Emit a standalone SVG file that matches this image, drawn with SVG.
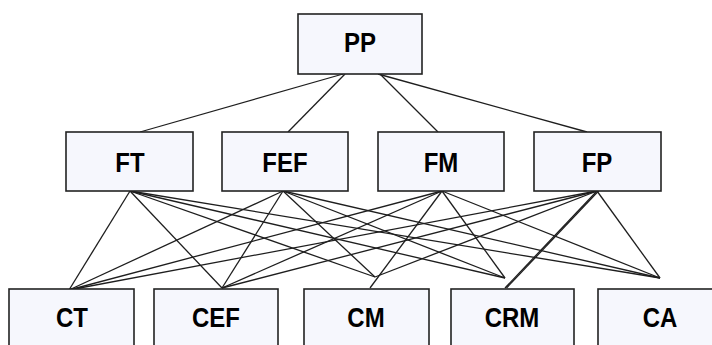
<svg xmlns="http://www.w3.org/2000/svg" width="712" height="345" viewBox="0 0 712 345">
<style>
.box{fill:#F6F7FD;stroke:#222;stroke-width:1.6}
.lbl{font-family:"Liberation Sans",Arial,sans-serif;font-weight:bold;font-size:24px;fill:#000;text-anchor:middle}
.ln{stroke:#1e1e1e;stroke-width:1.3;fill:none}
</style>
<rect width="712" height="345" fill="#fff"/>
<g id="connectors">
<line class="ln" x1="343" y1="74" x2="140" y2="132"/>
<line class="ln" x1="345" y1="74" x2="288" y2="132"/>
<line class="ln" x1="380" y1="74" x2="438" y2="132"/>
<line class="ln" x1="378" y1="74" x2="587" y2="132"/>
<line class="ln" x1="130" y1="191" x2="69" y2="290"/>
<line class="ln" x1="130" y1="191" x2="222" y2="288"/>
<line class="ln" x1="130" y1="191" x2="375" y2="277"/>
<line class="ln" x1="130" y1="191" x2="505" y2="278"/>
<line class="ln" x1="130" y1="191" x2="660" y2="278"/>
<line class="ln" x1="283" y1="191" x2="69" y2="290"/>
<line class="ln" x1="283" y1="191" x2="222" y2="288"/>
<line class="ln" x1="283" y1="191" x2="375" y2="277"/>
<line class="ln" x1="283" y1="191" x2="505" y2="278"/>
<line class="ln" x1="283" y1="191" x2="660" y2="278"/>
<line class="ln" x1="442" y1="191" x2="69" y2="290"/>
<line class="ln" x1="442" y1="191" x2="222" y2="288"/>
<line class="ln" x1="442" y1="191" x2="370" y2="288"/>
<line class="ln" x1="442" y1="191" x2="505" y2="278"/>
<line class="ln" x1="442" y1="191" x2="660" y2="278"/>
<line class="ln" x1="597" y1="191" x2="69" y2="290"/>
<line class="ln" x1="597" y1="191" x2="222" y2="288"/>
<line class="ln" x1="597" y1="191" x2="375" y2="277"/>
<line class="ln" x1="597" y1="191" x2="505" y2="288"/>
<line class="ln" x1="598.5" y1="191" x2="506.5" y2="288"/>
<line class="ln" x1="597" y1="191" x2="660" y2="278"/>
</g>
<g id="PP"><rect class="box" x="298" y="14" width="124" height="60"/><text class="lbl" transform="translate(360,52) scale(1,1.12)">PP</text></g>
<g id="FT"><rect class="box" x="66" y="132" width="127" height="59"/><text class="lbl" transform="translate(130,172) scale(1,1.12)">FT</text></g>
<g id="FEF"><rect class="box" x="222" y="132" width="126" height="59"/><text class="lbl" transform="translate(285,172) scale(1,1.12)">FEF</text></g>
<g id="FM"><rect class="box" x="378" y="132" width="126" height="59"/><text class="lbl" transform="translate(441,172) scale(1,1.12)">FM</text></g>
<g id="FP"><rect class="box" x="534" y="132" width="127" height="59"/><text class="lbl" transform="translate(597,172) scale(1,1.12)">FP</text></g>
<g id="CT"><rect class="box" x="9" y="289" width="125" height="62"/><text class="lbl" transform="translate(72,327) scale(1,1.12)">CT</text></g>
<g id="CEF"><rect class="box" x="154" y="289" width="124" height="62"/><text class="lbl" transform="translate(216,327) scale(1,1.12)">CEF</text></g>
<g id="CM"><rect class="box" x="304" y="289" width="125" height="62"/><text class="lbl" transform="translate(366,327) scale(1,1.12)">CM</text></g>
<g id="CRM"><rect class="box" x="451" y="289" width="123" height="62"/><text class="lbl" transform="translate(512,327) scale(1,1.12)">CRM</text></g>
<g id="CA"><rect class="box" x="598" y="289" width="124" height="62"/><text class="lbl" transform="translate(660,327) scale(1,1.12)">CA</text></g>
</svg>
